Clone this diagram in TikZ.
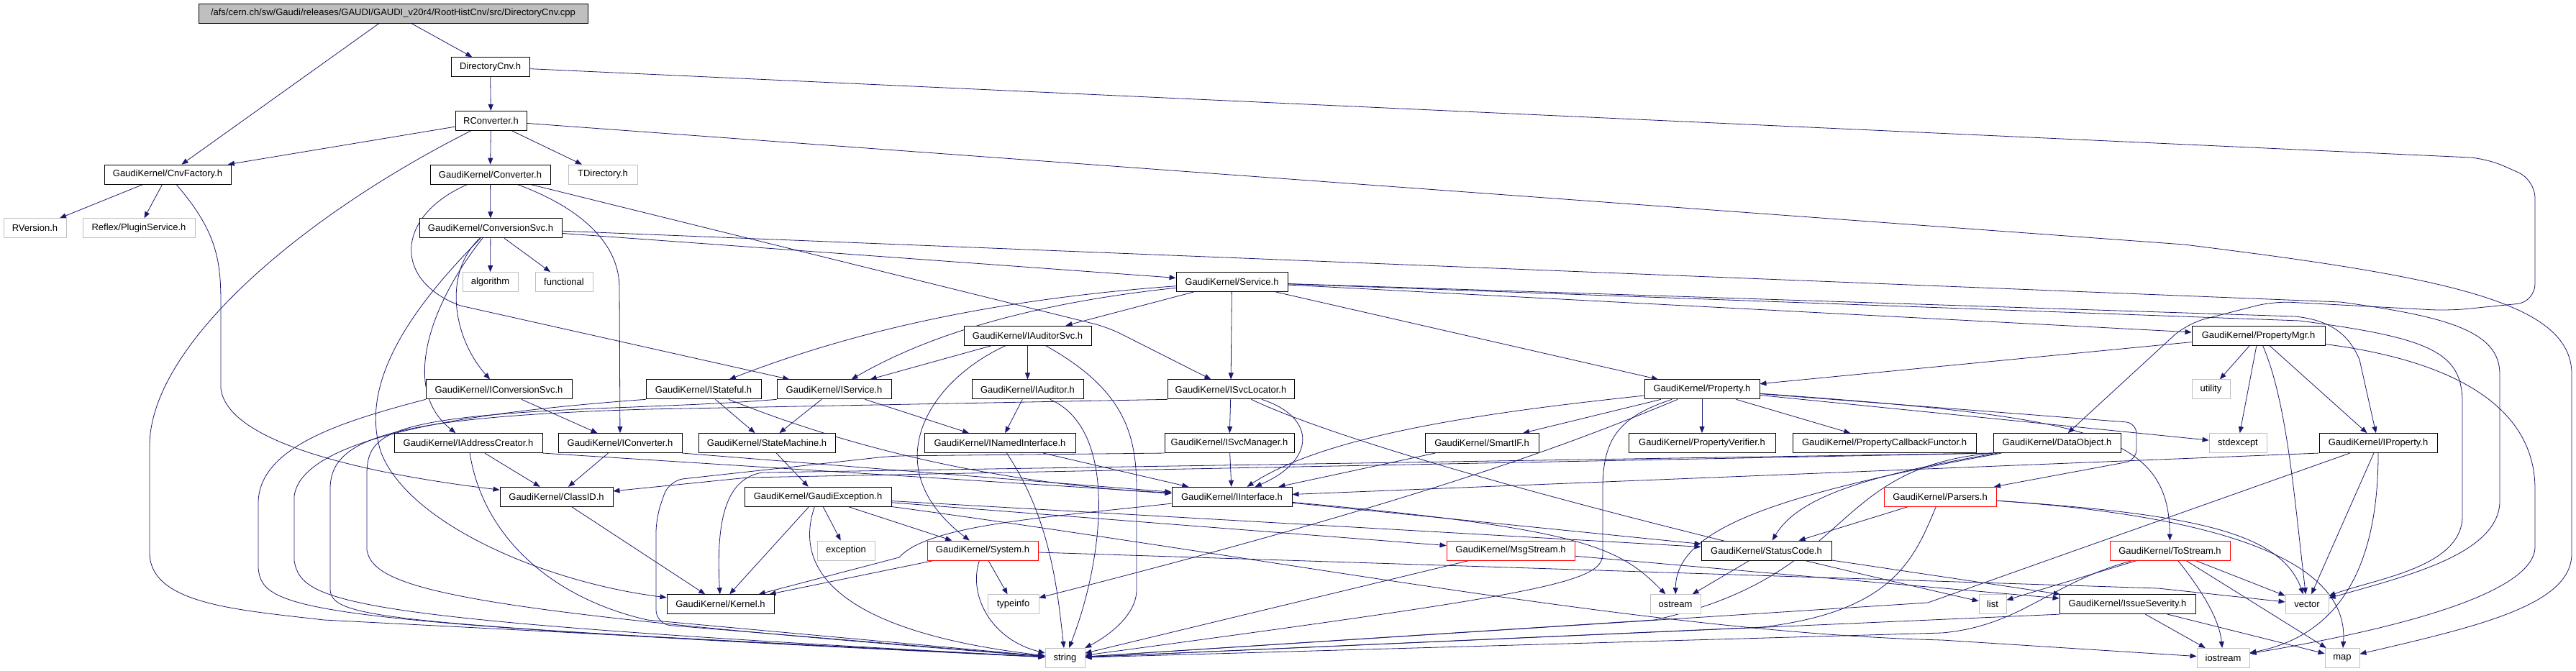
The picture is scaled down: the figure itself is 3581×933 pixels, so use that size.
\documentclass[tikz,border=0pt]{standalone}
\usepackage{fontspec}
\setmainfont{Liberation Sans}
\usepackage{xcolor}
\usetikzlibrary{arrows.meta,positioning,backgrounds}
\definecolor{edgeblue}{HTML}{191970}
\definecolor{boxgray}{HTML}{BFBFBF}

\begin{document}
\begin{tikzpicture}[x=1pt, y=-1pt,
    hdr/.style={rectangle, draw=black, fill=white, line width=0.9pt, minimum width=#1, minimum height=27pt, inner sep=0pt, font=\fontsize{13}{15}\selectfont},
    rootbox/.style={hdr=#1, fill=boxgray},
    sys/.style={hdr=#1, draw=boxgray},
    trunc/.style={hdr=#1, draw=red},
    dep/.style={draw=edgeblue, line width=0.8pt, -{Triangle[length=9pt, width=7pt]}}]
    \useasboundingbox (0,0) rectangle (3581,933);

    % Source file and its local headers
    \node[rootbox=541pt] (root) at (546.5,18.5) {/afs/cern.ch/sw/Gaudi/releases/GAUDI/GAUDI\_v20r4/RootHistCnv/src/DirectoryCnv.cpp};
    \node[hdr=109pt] (dircnv) at (681.5,93.2) {DirectoryCnv.h};
    \node[hdr=99pt] (rconv) at (682.5,167.9) {RConverter.h};
    \node[hdr=176pt] (cnvfac) at (233,242.6) {GaudiKernel/CnvFactory.h};
    \node[hdr=167pt] (converter) at (681.5,242.6) {GaudiKernel/Converter.h};
    \node[sys=96pt] (tdir) at (838,242.6) {TDirectory.h};
    \node[sys=87pt] (rversion) at (48.5,317.3) {RVersion.h};
    \node[sys=156pt] (plugin) at (193,317.3) {Reflex/PluginService.h};
    \node[hdr=198pt] (convsvc) at (682,317.3) {GaudiKernel/ConversionSvc.h};
    \node[sys=77pt] (algorithm) at (681.5,392) {algorithm};
    \node[sys=80pt] (functional) at (784,392) {functional};
    \node[hdr=155pt] (service) at (1712.5,392) {GaudiKernel/Service.h};
    \node[hdr=177pt] (iauditorsvc) at (1428.5,466.7) {GaudiKernel/IAuditorSvc.h};
    \node[hdr=185pt] (propmgr) at (3139.5,466.7) {GaudiKernel/PropertyMgr.h};

    % Interfaces
    \node[hdr=203pt] (iconvsvc) at (693.5,541.4) {GaudiKernel/IConversionSvc.h};
    \node[hdr=160pt] (istateful) at (978,541.4) {GaudiKernel/IStateful.h};
    \node[hdr=159pt] (iservice) at (1159.5,541.4) {GaudiKernel/IService.h};
    \node[hdr=155pt] (iauditor) at (1428.5,541.4) {GaudiKernel/IAuditor.h};
    \node[hdr=176pt] (isvcloc) at (1711,541.4) {GaudiKernel/ISvcLocator.h};
    \node[hdr=160pt] (property) at (2366,541.4) {GaudiKernel/Property.h};
    \node[sys=53pt] (utility) at (3073.5,541.4) {utility};
    \node[hdr=206pt] (iaddr) at (651,616.1) {GaudiKernel/IAddressCreator.h};
    \node[hdr=172pt] (iconverter) at (862,616.1) {GaudiKernel/IConverter.h};
    \node[hdr=190pt] (statemach) at (1066,616.1) {GaudiKernel/StateMachine.h};
    \node[hdr=210pt] (inamed) at (1390,616.1) {GaudiKernel/INamedInterface.h};
    \node[hdr=180pt] (isvcmgr) at (1709,616.1) {GaudiKernel/ISvcManager.h};
    \node[hdr=158pt] (smartif) at (2060,616.1) {GaudiKernel/SmartIF.h};
    \node[hdr=204pt] (propverif) at (2366,616.1) {GaudiKernel/PropertyVerifier.h};
    \node[hdr=255pt] (propcb) at (2619.5,616.1) {GaudiKernel/PropertyCallbackFunctor.h};
    \node[hdr=177pt] (dataobj) at (2859.5,616.1) {GaudiKernel/DataObject.h};
    \node[sys=80pt] (stdexcept) at (3111,616.1) {stdexcept};
    \node[hdr=164pt] (iproperty) at (3306,616.1) {GaudiKernel/IProperty.h};
    \node[hdr=157pt] (classid) at (773.5,690.8) {GaudiKernel/ClassID.h};
    \node[hdr=204pt] (gaudiexc) at (1137,690.8) {GaudiKernel/GaudiException.h};
    \node[hdr=167pt] (iinterface) at (1712.5,690.8) {GaudiKernel/IInterface.h};
    \node[trunc=156pt] (parsers) at (2697,690.8) {GaudiKernel/Parsers.h};

    % Bottom layers
    \node[sys=80pt] (exception) at (1176,765.5) {exception};
    \node[trunc=154pt] (system) at (1366,765.5) {GaudiKernel/System.h};
    \node[trunc=178pt] (msgstream) at (2100,765.5) {GaudiKernel/MsgStream.h};
    \node[hdr=181pt] (statuscode) at (2455.5,765.5) {GaudiKernel/StatusCode.h};
    \node[trunc=167pt] (tostream) at (3016.5,765.5) {GaudiKernel/ToStream.h};
    \node[hdr=149pt] (kernel) at (1001.5,840.2) {GaudiKernel/Kernel.h};
    \node[sys=71pt] (typeinfo) at (1408.5,840.2) {typeinfo};
    \node[sys=70pt] (ostream) at (2329,840.2) {ostream};
    \node[sys=38pt] (list) at (2770,840.2) {list};
    \node[hdr=189pt] (issuesev) at (2957.5,840.2) {GaudiKernel/IssueSeverity.h};
    \node[sys=60pt] (vector) at (3207,840.2) {vector};
    \node[sys=55pt] (string) at (1480.5,914.9) {string};
    \node[sys=73pt] (iostream) at (3090.5,914.9) {iostream};
    \node[sys=48pt] (map) at (3256,914.9) {map};

    \begin{scope}[on background layer]
    % DirectoryCnv.cpp
    \draw[dep] (root) -- (dircnv);
    \draw[dep] (root) -- (cnvfac);

    % DirectoryCnv.h
    \draw[dep] (dircnv) -- (rconv);
    \draw[dep, rounded corners=25pt] (dircnv) -- (3456,220) -- (3524,250) -- (3524,420) -- (3404,432) -- (3160,419) -- (3040,450) -- (dataobj);

    % RConverter.h
    \draw[dep] (rconv) -- (cnvfac);
    \draw[dep] (rconv) -- (converter);
    \draw[dep] (rconv) -- (tdir);
    \draw[dep] (rconv) .. controls (420,300) and (208,480) .. (208,620) -- (208,770) .. controls (210,840) and (330,848) .. (450,862) -- (string);
    \draw[dep] (rconv) -- (3036,340) .. controls (3400,385) and (3575,420) .. (3575,520) -- (3575,770) .. controls (3575,840) and (3450,870) .. (map);

    % CnvFactory.h
    \draw[dep] (cnvfac) -- (rversion);
    \draw[dep] (cnvfac) -- (plugin);
    \draw[dep] (cnvfac) .. controls (300,320) and (307,360) .. (307,420) -- (307,540) .. controls (315,610) and (480,655) .. (classid);

    % Converter.h
    \draw[dep] (converter) -- (convsvc);
    \draw[dep] (converter) .. controls (550,300) and (545,390) .. (640,425) -- (iservice);
    \draw[dep, rounded corners=20pt] (converter) -- (1540,455) -- (isvcloc);
    \draw[dep] (converter) .. controls (810,290) and (861,340) .. (861,400) -- (iconverter);

    % ConversionSvc.h
    \draw[dep] (convsvc) -- (algorithm);
    \draw[dep] (convsvc) -- (functional);
    \draw[dep] (convsvc) -- (service);
    \draw[dep] (convsvc) -- (3254,420) .. controls (3400,440) and (3475,460) .. (3475,520) -- (3475,700) .. controls (3470,770) and (3350,800) .. (vector);
    \draw[dep] (convsvc) .. controls (560,440) and (500,540) .. (530,630) .. controls (570,730) and (760,810) .. (kernel);
    \draw[dep] (convsvc) .. controls (600,420) and (555,540) .. (iaddr);
    \draw[dep] (convsvc) .. controls (615,380) and (630,470) .. (iconvsvc);

    % Service.h
    \draw[dep] (service) -- (iauditorsvc);
    \draw[dep] (service) .. controls (1450,420) and (1300,460) .. (iservice);
    \draw[dep] (service) .. controls (1400,415) and (1200,455) .. (istateful);
    \draw[dep] (service) -- (isvcloc);
    \draw[dep] (service) -- (property);
    \draw[dep] (service) -- (propmgr);
    \draw[dep] (service) -- (3190,440) .. controls (3240,445) and (3265,465) .. (3280,500) -- (iproperty);
    \draw[dep] (service) -- (3197,446) .. controls (3380,470) and (3423,490) .. (3423,560) -- (3423,720) .. controls (3420,790) and (3300,805) .. (vector);

    % IAuditorSvc.h and IAuditor.h
    \draw[dep] (iauditorsvc) -- (iservice);
    \draw[dep] (iauditorsvc) -- (iauditor);
    \draw[dep] (iauditorsvc) .. controls (1290,530) and (1215,650) .. (system);
    \draw[dep] (iauditorsvc) .. controls (1560,540) and (1580,600) .. (1580,680) -- (1580,820) .. controls (1580,860) and (1530,890) .. (string);
    \draw[dep] (iauditor) -- (inamed);
    \draw[dep] (iauditor) .. controls (1560,600) and (1530,790) .. (string);

    % IService.h and IStateful.h
    \draw[dep] (iservice) -- (statemach);
    \draw[dep] (iservice) -- (inamed);
    \draw[dep] (iservice.south west) .. controls (1000,562) and (920,564) .. (880,566) .. controls (540,578) and (510,600) .. (510,660) -- (510,765) .. controls (520,820) and (640,850) .. (string);
    \draw[dep] (istateful) -- (statemach);
    \draw[dep] (istateful) .. controls (1150,610) and (1350,670) .. (iinterface);
    \draw[dep] (istateful.south west) .. controls (700,570) and (420,600) .. (409,690) -- (409,780) .. controls (420,840) and (480,862) .. (string);

    % ISvcLocator.h and ISvcManager.h
    \draw[dep] (isvcloc) -- (isvcmgr);
    \draw[dep] (isvcloc) .. controls (1830,580) and (1830,640) .. (iinterface);
    \draw[dep] (isvcloc) .. controls (1790,580) and (2000,665) .. (list);
    \draw[dep] (isvcloc.south west) -- (900,569) .. controls (540,580) and (459,610) .. (459,680) -- (459,820) .. controls (462,860) and (530,868) .. (string);
    \draw[dep] (isvcmgr) -- (iinterface);
    \draw[dep, rounded corners=20pt] (isvcmgr.south west) -- (1240,634) -- (930,668) -- (912,720) -- (912,868) -- (string);

    % INamedInterface.h and StateMachine.h
    \draw[dep] (inamed) -- (iinterface);
    \draw[dep] (inamed) .. controls (1460,720) and (1470,820) .. (string);
    \draw[dep] (statemach) -- (gaudiexc);

    % Converter interfaces
    \draw[dep] (iconvsvc) -- (iconverter);
    \draw[dep] (iconvsvc.south west) .. controls (480,585) and (359,620) .. (359,700) -- (359,790) .. controls (365,850) and (420,865) .. (string);
    \draw[dep] (iaddr) -- (classid);
    \draw[dep] (iaddr.south east) -- (iinterface);
    \draw[dep] (iaddr) .. controls (670,740) and (760,830) .. (900,862) -- (string);
    \draw[dep] (iconverter) -- (classid);
    \draw[dep] (iconverter.south east) -- (iinterface);
    \draw[dep] (classid) -- (kernel);

    % GaudiException.h
    \draw[dep] (gaudiexc) -- (exception);
    \draw[dep] (gaudiexc) -- (system);
    \draw[dep] (gaudiexc) -- (kernel);
    \draw[dep] (gaudiexc) .. controls (1100,800) and (1180,880) .. (string);
    \draw[dep] (gaudiexc) -- (statuscode);
    \draw[dep] (gaudiexc) -- (msgstream);
    \draw[dep] (gaudiexc) .. controls (1800,780) and (2300,880) .. (2700,890) -- (iostream);

    % IInterface.h and System.h
    \draw[dep] (iinterface) .. controls (1450,720) and (1290,730) .. (1250,775) -- (kernel);
    \draw[dep] (iinterface) -- (statuscode);
    \draw[dep] (iinterface) .. controls (2200,735) and (2250,760) .. (ostream);
    \draw[dep] (system) -- (kernel);
    \draw[dep] (system) -- (typeinfo);
    \draw[dep] (system) .. controls (1345,830) and (1380,890) .. (string);
    \draw[dep] (system) -- (3000,818) -- (vector);

    % Property.h
    \draw[dep] (property) -- (smartif);
    \draw[dep] (property) -- (propverif);
    \draw[dep] (property) -- (propcb);
    \draw[dep] (property) .. controls (2200,610) and (2000,690) .. (typeinfo);
    \draw[dep] (property) .. controls (2100,570) and (1850,600) .. (iinterface);
    \draw[dep] (property) .. controls (2250,580) and (2228,610) .. (2228,680) -- (2228,770) .. controls (2228,810) and (2150,825) .. (string);
    \draw[dep] (property) -- (stdexcept);
    \draw[dep] (property) .. controls (2900,580) and (3015,600) .. (tostream);
    \draw[dep, rounded corners=15pt] (property) -- (2970,588) -- (2970,640) -- (parsers);
    \draw[dep] (smartif) -- (iinterface);

    % PropertyMgr.h and IProperty.h
    \draw[dep] (propmgr) -- (property);
    \draw[dep] (propmgr) -- (utility);
    \draw[dep] (propmgr) -- (stdexcept);
    \draw[dep] (propmgr) -- (iproperty);
    \draw[dep] (propmgr) .. controls (3180,560) and (3190,700) .. (vector);
    \draw[dep] (propmgr) .. controls (3400,500) and (3524,560) .. (3524,680) -- (3524,760) .. controls (3524,830) and (3300,880) .. (iostream);
    \draw[dep] (iproperty.south west) -- (iinterface);
    \draw[dep] (iproperty) -- (vector);
    \draw[dep] (iproperty) .. controls (3306,760) and (3270,880) .. (iostream);
    \draw[dep] (iproperty) -- (2680,838) -- (string);

    % DataObject.h
    \draw[dep] (dataobj.south west) -- (1040,664) -- (classid);
    \draw[dep] (dataobj.south west) -- (1060,657) .. controls (1010,665) and (995,720) .. (kernel);
    \draw[dep] (dataobj) .. controls (2600,660) and (2500,690) .. (statuscode);
    \draw[dep] (dataobj) .. controls (2450,690) and (2330,740) .. (ostream);
    \draw[dep] (dataobj.south west) .. controls (2540,650) and (2580,800) .. (2300,862) -- (string);

    % Parsers.h, MsgStream.h, StatusCode.h
    \draw[dep] (parsers) -- (statuscode);
    \draw[dep] (parsers) .. controls (2660,780) and (2630,850) .. (2450,872) -- (string);
    \draw[dep] (parsers) .. controls (3050,715) and (3170,740) .. (vector);
    \draw[dep] (parsers) .. controls (3120,720) and (3265,790) .. (map);
    \draw[dep] (msgstream) -- (string);
    \draw[dep] (msgstream) -- (issuesev);
    \draw[dep] (statuscode) -- (ostream);
    \draw[dep] (statuscode) -- (issuesev);

    % ToStream.h and IssueSeverity.h
    \draw[dep] (tostream) -- (list);
    \draw[dep] (tostream) -- (vector);
    \draw[dep] (tostream) .. controls (3060,820) and (3085,860) .. (iostream);
    \draw[dep] (tostream) -- (map);
    \draw[dep] (tostream) .. controls (2850,810) and (2810,870) .. (2700,880) -- (string);
    \draw[dep] (issuesev) -- (iostream);
    \draw[dep] (issuesev) -- (map);
    \draw[dep] (issuesev.south west) -- (string);
    \end{scope}
\end{tikzpicture}
\end{document}
